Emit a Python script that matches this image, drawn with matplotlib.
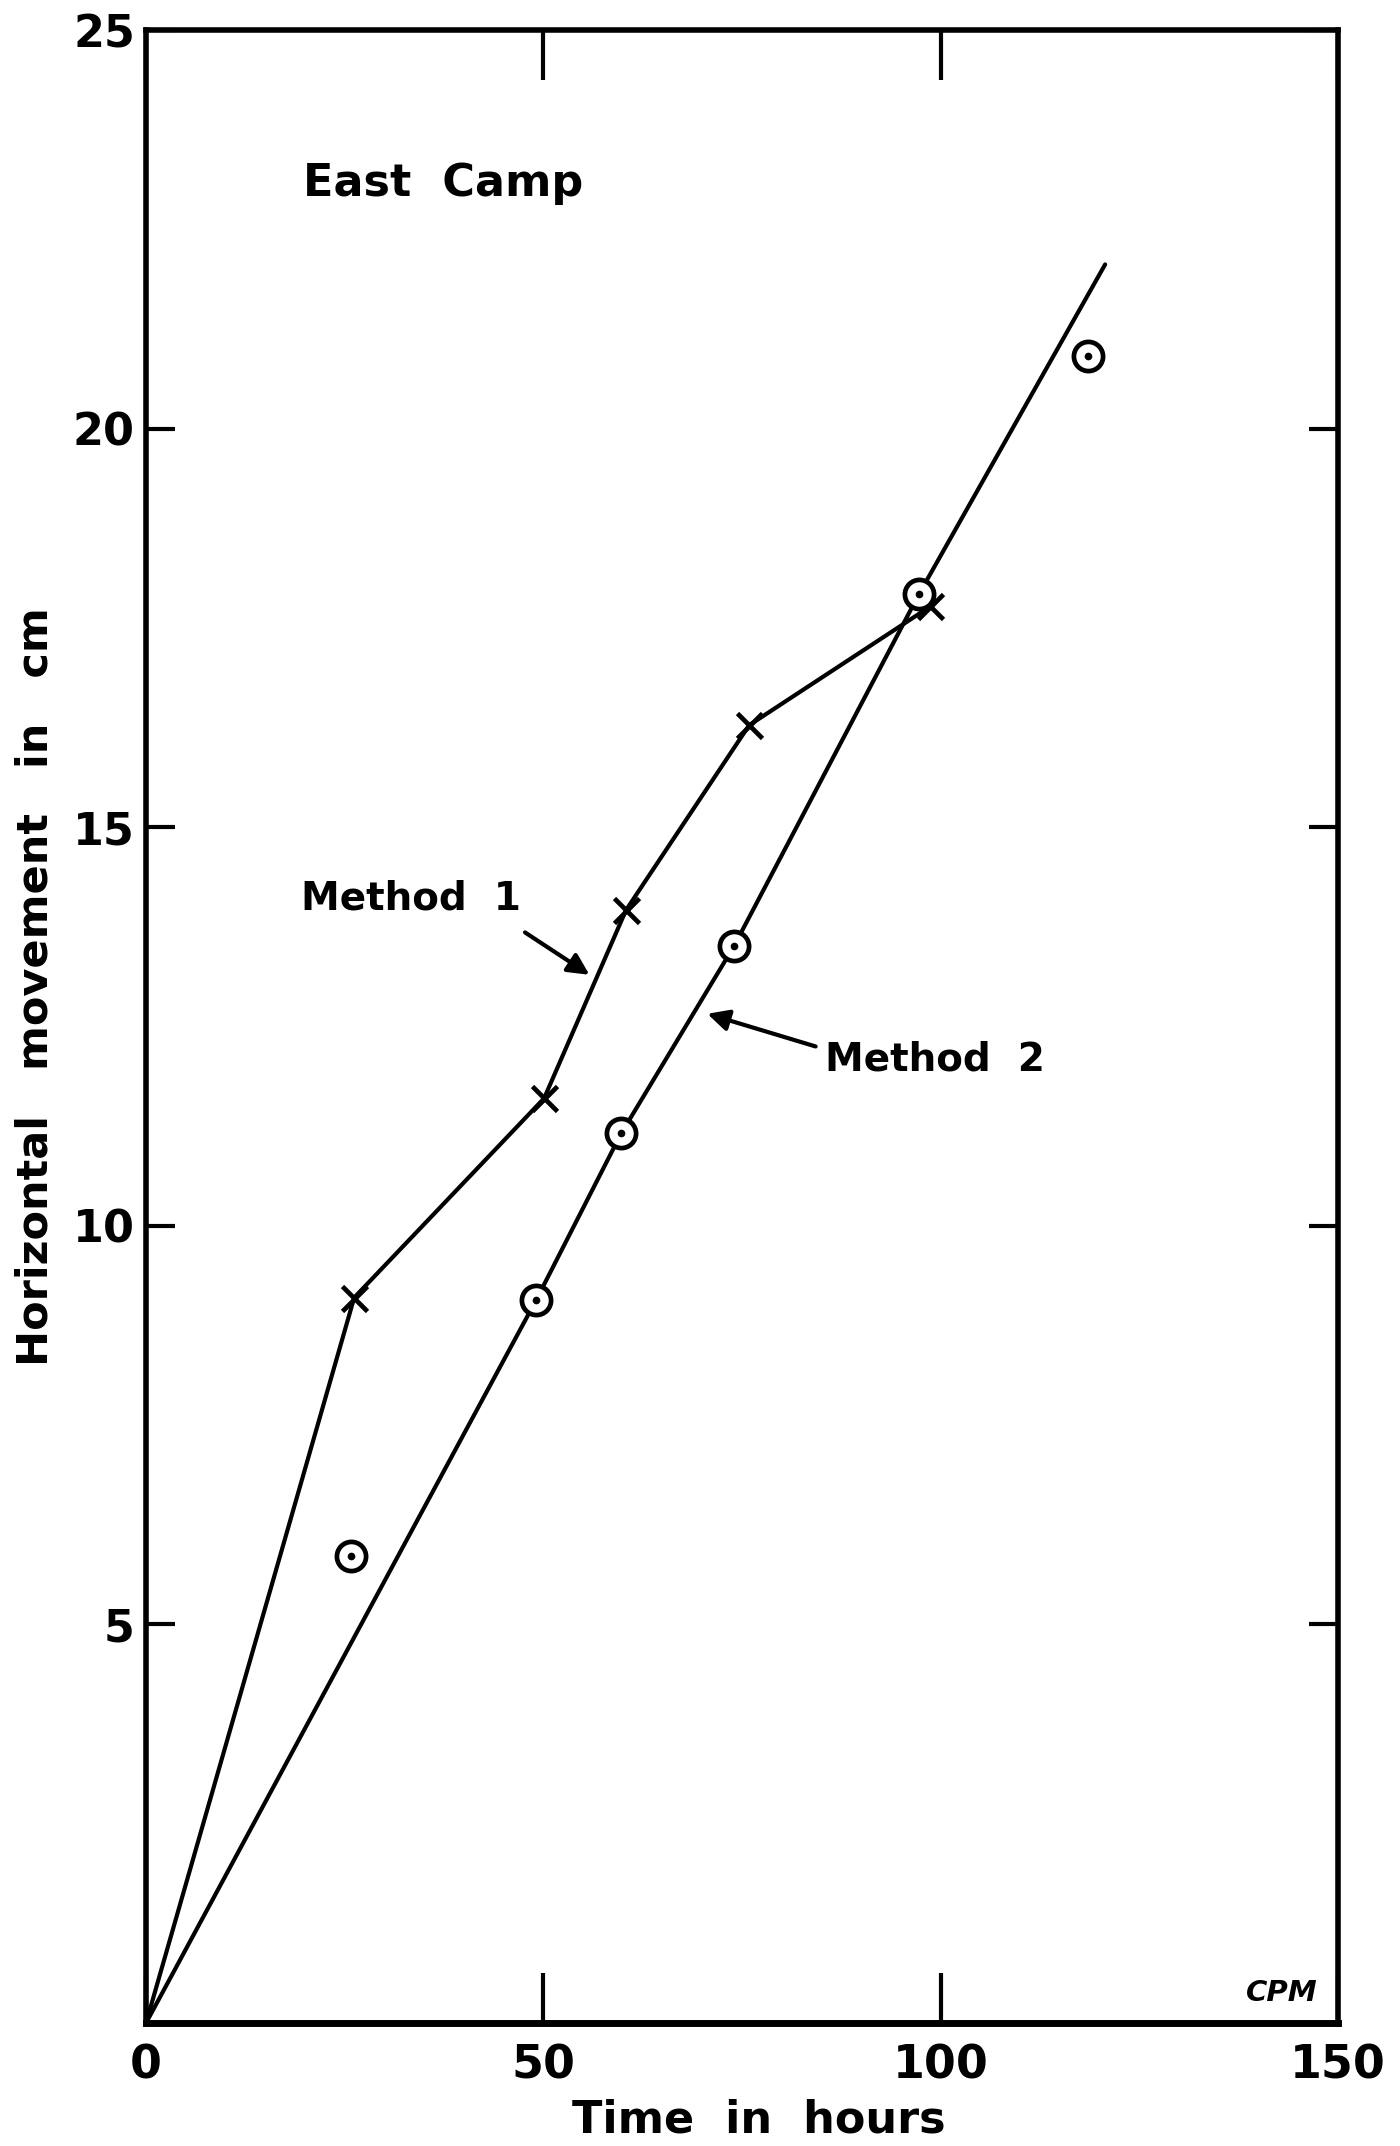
import matplotlib
matplotlib.use("Agg")
import matplotlib.pyplot as plt

plt.rcParams['font.family'] = ['DejaVu Sans']

# Method 1 (x markers)
m1_hours = [0, 26.2, 50.1, 60.4, 75.9, 98.7]
m1_move = [0.0, 9.10, 11.6, 13.96, 16.28, 17.77]

# Method 2 (circle-dot markers)
m2_pts_hours = [25.8, 49.1, 59.8, 74.0, 97.3, 118.5]
m2_pts_move = [5.86, 9.07, 11.16, 13.51, 17.93, 20.91]
# Method 2 drawn line
m2_line_hours = [0, 49.1, 59.8, 74.0, 97.3, 120.7]
m2_line_move = [0.0, 9.07, 11.16, 13.51, 17.93, 22.06]

x_ticks = [0, 50, 100, 150]
y_ticks = [5, 10, 15, 20, 25]

fig = plt.figure(figsize=(14, 21.46), dpi=100)
ax = fig.add_axes([0.1043, 0.0573, 0.8514, 0.9287])
ax.set_xlim(0, 150)
ax.set_ylim(0, 25)

lw = 3.0
ax.plot(m1_hours, m1_move, color='black', lw=lw, solid_capstyle='round',
        solid_joinstyle='round')
ax.plot(m1_hours[1:], m1_move[1:], linestyle='none', marker='x', ms=18,
        mew=3.4, color='black')
ax.plot(m2_line_hours, m2_line_move, color='black', lw=lw,
        solid_capstyle='round', solid_joinstyle='round')
ax.plot(m2_pts_hours, m2_pts_move, linestyle='none', marker='o', ms=21,
        mfc='white', mec='black', mew=3.4)
ax.plot(m2_pts_hours, m2_pts_move, linestyle='none', marker='o', ms=4.5,
        color='black')

for name, s in ax.spines.items():
    s.set_linewidth(5.0 if name == 'bottom' else 4.0)

ax.set_xticks(x_ticks)
ax.set_yticks(y_ticks)
ax.set_xticklabels([str(v) for v in x_ticks], fontsize=33, fontweight='bold')
ax.set_yticklabels([str(v) for v in y_ticks], fontsize=32, fontweight='bold')
ax.tick_params(axis='x', direction='in', length=36, width=3, top=True,
               bottom=True, pad=15)
ax.tick_params(axis='y', direction='in', length=21, width=3, right=True,
               left=True, pad=8)

ax.set_xlabel('Time  in  hours', fontsize=32, fontweight='bold')
ax.xaxis.set_label_coords(0.514, -0.038)
ax.set_ylabel('Horizontal   movement   in   cm', fontsize=31,
              fontweight='bold')
ax.yaxis.set_label_coords(-0.075, 0.52)

ax.text(19.8, 23.08, 'East  Camp', fontsize=32, fontweight='bold',
        va='center', ha='left')
ax.text(19.5, 14.11, 'Method  1', fontsize=28, fontweight='bold',
        va='center', ha='left')
ax.text(85.4, 12.09, 'Method  2', fontsize=28, fontweight='bold',
        va='center', ha='left')

ax.annotate('', xy=(56.1, 13.13), xytext=(47.4, 13.70),
            arrowprops=dict(arrowstyle='-|>', color='black', lw=3,
                            mutation_scale=32))
ax.annotate('', xy=(70.3, 12.67), xytext=(84.6, 12.24),
            arrowprops=dict(arrowstyle='-|>', color='black', lw=3,
                            mutation_scale=32))

ax.text(147.5, 0.2, 'CPM', fontsize=21, fontweight='bold', style='italic',
        ha='right', va='bottom')

fig.savefig('out.png', dpi=100)
